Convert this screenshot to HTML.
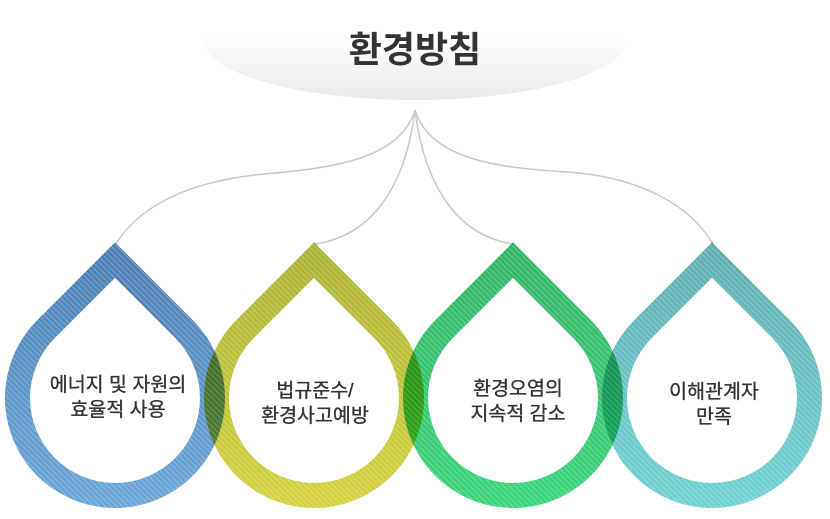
<!DOCTYPE html>
<html>
<head>
<meta charset="utf-8">
<style>
  html,body{margin:0;padding:0;background:#fff;}
  body{width:830px;height:519px;position:relative;overflow:hidden;
    font-family:"Liberation Sans","Noto Sans CJK KR",sans-serif;}
  svg.layer{position:absolute;left:0;top:0;width:830px;height:519px;}
  svg.drop{mix-blend-mode:multiply;}
  .title{position:absolute;left:305px;width:220px;top:28px;text-align:center;
    font-size:36px;font-weight:bold;color:#333;line-height:44px;}
  .lbl{position:absolute;width:220px;text-align:center;font-size:19.5px;line-height:25px;color:#333;
    -webkit-text-stroke:0.35px #333;}
</style>
</head>
<body>
<svg class="layer" viewBox="0 0 830 519">
  <defs>
    <linearGradient id="ell" x1="0" y1="0" x2="0" y2="1">
      <stop offset="0" stop-color="#ffffff"/>
      <stop offset="0.45" stop-color="#ffffff"/>
      <stop offset="1" stop-color="#e9e9e9"/>
    </linearGradient>
  </defs>
  <ellipse cx="415" cy="40" rx="211" ry="60" fill="url(#ell)"/>
  <g fill="none" stroke="#c9c9c9" stroke-width="1.5">
    <path d="M415,110 C400,160 330,168 265,174 C190,181 140,205 116,244"/>
    <path d="M415,110 C405,190 370,236 315,244"/>
    <path d="M415,110 C425,190 460,236 513,244"/>
    <path d="M415,110 C430,160 500,168 567,172 C640,177 690,205 713,244"/>
  </g>
</svg>

<svg class="layer drop" viewBox="0 0 830 519">
  <defs>
    <linearGradient id="g1" gradientUnits="userSpaceOnUse" x1="0" y1="243" x2="0" y2="508">
      <stop offset="0" stop-color="#4a7db0"/><stop offset="1" stop-color="#6ba7d7"/>
    </linearGradient>
    <pattern id="st1" width="4" height="4" patternUnits="userSpaceOnUse" patternTransform="rotate(-45)">
      <rect x="0" y="0" width="1" height="4" fill="#fff" fill-opacity="0.28"/>
    </pattern>
  </defs>
  <path fill-rule="evenodd" fill="url(#g1)" d="M115,242.4 L192.8,320.2 A110,110 0 1,1 37.2,320.2 Z M115,277.8 L175.1,337.9 A85,85 0 1,1 54.9,337.9 Z"/>
  <path fill-rule="evenodd" fill="url(#st1)" d="M115,242.4 L192.8,320.2 A110,110 0 1,1 37.2,320.2 Z M115,277.8 L175.1,337.9 A85,85 0 1,1 54.9,337.9 Z"/>
</svg>

<svg class="layer drop" viewBox="0 0 830 519">
  <defs>
    <linearGradient id="g2" gradientUnits="userSpaceOnUse" x1="0" y1="243" x2="0" y2="508">
      <stop offset="0" stop-color="#a9b133"/><stop offset="1" stop-color="#d4d23e"/>
    </linearGradient>
  </defs>
  <path fill-rule="evenodd" fill="url(#g2)" d="M314,242.4 L391.8,320.2 A110,110 0 1,1 236.2,320.2 Z M314,277.8 L374.1,337.9 A85,85 0 1,1 253.9,337.9 Z"/>
  <path fill-rule="evenodd" fill="url(#st1)" d="M314,242.4 L391.8,320.2 A110,110 0 1,1 236.2,320.2 Z M314,277.8 L374.1,337.9 A85,85 0 1,1 253.9,337.9 Z"/>
</svg>

<svg class="layer drop" viewBox="0 0 830 519">
  <defs>
    <linearGradient id="g3" gradientUnits="userSpaceOnUse" x1="0" y1="243" x2="0" y2="508">
      <stop offset="0" stop-color="#33b266"/><stop offset="1" stop-color="#3ad67a"/>
    </linearGradient>
  </defs>
  <path fill-rule="evenodd" fill="url(#g3)" d="M513,242.4 L590.8,320.2 A110,110 0 1,1 435.2,320.2 Z M513,277.8 L573.1,337.9 A85,85 0 1,1 452.9,337.9 Z"/>
  <path fill-rule="evenodd" fill="url(#st1)" d="M513,242.4 L590.8,320.2 A110,110 0 1,1 435.2,320.2 Z M513,277.8 L573.1,337.9 A85,85 0 1,1 452.9,337.9 Z"/>
</svg>

<svg class="layer drop" viewBox="0 0 830 519">
  <defs>
    <linearGradient id="g4" gradientUnits="userSpaceOnUse" x1="0" y1="243" x2="0" y2="508">
      <stop offset="0" stop-color="#62adb2"/><stop offset="1" stop-color="#6fd2d2"/>
    </linearGradient>
  </defs>
  <path fill-rule="evenodd" fill="url(#g4)" d="M712,242.4 L789.8,320.2 A110,110 0 1,1 634.2,320.2 Z M712,277.8 L772.1,337.9 A85,85 0 1,1 651.9,337.9 Z"/>
  <path fill-rule="evenodd" fill="url(#st1)" d="M712,242.4 L789.8,320.2 A110,110 0 1,1 634.2,320.2 Z M712,277.8 L772.1,337.9 A85,85 0 1,1 651.9,337.9 Z"/>
</svg>

<div class="title">환경방침</div>

<div class="lbl" style="left:8px;top:373px;">에너지 및 자원의<br>효율적 사용</div>
<div class="lbl" style="left:205px;top:379px;">법규준수/<br>환경사고예방</div>
<div class="lbl" style="left:408px;top:377px;">환경오염의<br>지속적 감소</div>
<div class="lbl" style="left:604px;top:380px;">이해관계자<br>만족</div>
</body>
</html>
